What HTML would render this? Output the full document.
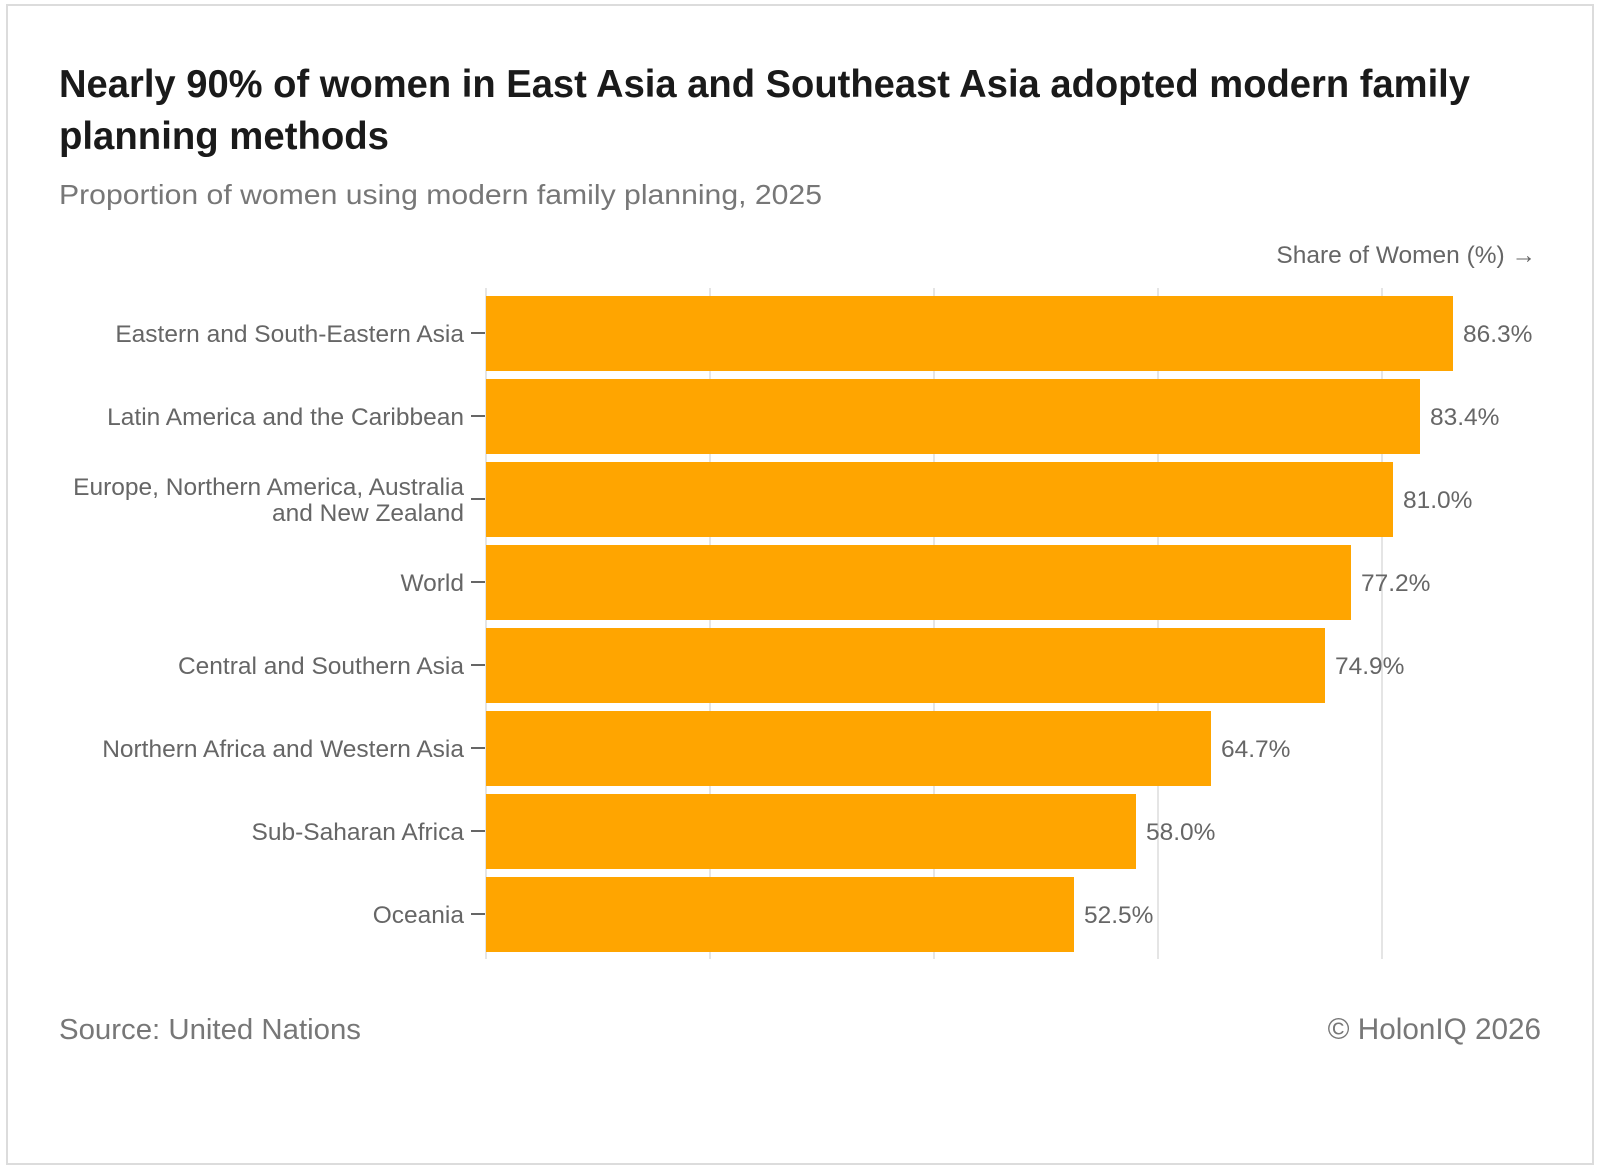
<!DOCTYPE html>
<html><head><meta charset="utf-8"><style>html,body{margin:0;padding:0;background:#fff}svg{display:block}</style></head>
<body>
<svg width="1600" height="1169" viewBox="0 0 1600 1169" xmlns="http://www.w3.org/2000/svg" font-family="Liberation Sans, sans-serif">
<rect x="0" y="0" width="1600" height="1169" fill="#fff"/>
<rect x="7" y="5" width="1586" height="1159" fill="none" stroke="#dcdcdc" stroke-width="2"/>
<text x="59" y="97" font-size="39" font-weight="bold" fill="#1a1a1a" textLength="1411" lengthAdjust="spacingAndGlyphs">Nearly 90% of women in East Asia and Southeast Asia adopted modern family</text>
<text x="59" y="149" font-size="39" font-weight="bold" fill="#1a1a1a" textLength="330" lengthAdjust="spacingAndGlyphs">planning methods</text>
<text x="59" y="204" font-size="28" fill="#777" textLength="763" lengthAdjust="spacingAndGlyphs">Proportion of women using modern family planning, 2025</text>
<text x="1536" y="263" font-size="24.5" fill="#666" text-anchor="end">Share of Women (%) →</text>
<g stroke="#e5e5e5" stroke-width="2">
<line x1="486" y1="288" x2="486" y2="959"/>
<line x1="710" y1="288" x2="710" y2="959"/>
<line x1="934" y1="288" x2="934" y2="959"/>
<line x1="1158" y1="288" x2="1158" y2="959"/>
<line x1="1382" y1="288" x2="1382" y2="959"/>
</g>
<g fill="#FFA500">
<rect x="486" y="296" width="967" height="75"/>
<rect x="486" y="379" width="934" height="75"/>
<rect x="486" y="462" width="907" height="75"/>
<rect x="486" y="545" width="865" height="75"/>
<rect x="486" y="628" width="839" height="75"/>
<rect x="486" y="711" width="725" height="75"/>
<rect x="486" y="794" width="650" height="75"/>
<rect x="486" y="877" width="588" height="75"/>
</g>
<g stroke="#666" stroke-width="2">
<line x1="471" y1="333" x2="485" y2="333"/>
<line x1="471" y1="416" x2="485" y2="416"/>
<line x1="471" y1="499" x2="485" y2="499"/>
<line x1="471" y1="582" x2="485" y2="582"/>
<line x1="471" y1="665" x2="485" y2="665"/>
<line x1="471" y1="748" x2="485" y2="748"/>
<line x1="471" y1="831" x2="485" y2="831"/>
<line x1="471" y1="914" x2="485" y2="914"/>
</g>
<g font-size="24.5" fill="#666" text-anchor="end">
<text x="464" y="342">Eastern and South-Eastern Asia</text>
<text x="464" y="425">Latin America and the Caribbean</text>
<text x="464" y="495">Europe, Northern America, Australia</text>
<text x="464" y="521">and New Zealand</text>
<text x="464" y="591">World</text>
<text x="464" y="674">Central and Southern Asia</text>
<text x="464" y="757">Northern Africa and Western Asia</text>
<text x="464" y="840">Sub-Saharan Africa</text>
<text x="464" y="923">Oceania</text>
</g>
<g font-size="24.5" fill="#666">
<text x="1463" y="342">86.3%</text>
<text x="1430" y="425">83.4%</text>
<text x="1403" y="508">81.0%</text>
<text x="1361" y="591">77.2%</text>
<text x="1335" y="674">74.9%</text>
<text x="1221" y="757">64.7%</text>
<text x="1146" y="840">58.0%</text>
<text x="1084" y="923">52.5%</text>
</g>
<text x="59" y="1039" font-size="29" fill="#777" textLength="302" lengthAdjust="spacingAndGlyphs">Source: United Nations</text>
<text x="1541" y="1039" font-size="29.7" fill="#777" text-anchor="end">© HolonIQ 2026</text>
</svg>
</body></html>
